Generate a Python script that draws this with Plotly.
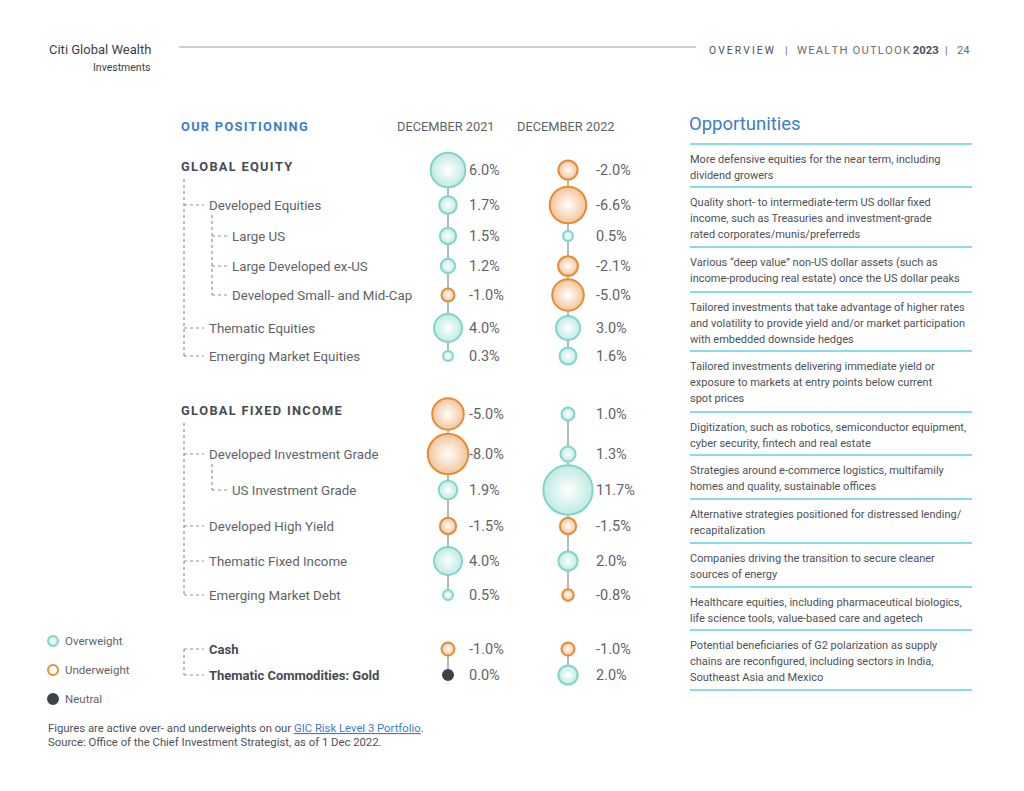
import plotly.graph_objects as go
import math

# ---------------- data ----------------
categories = ["GLOBAL EQUITY", "Developed Equities", "Large US", "Large Developed ex-US",
              "Developed Small- and Mid-Cap", "Thematic Equities", "Emerging Market Equities",
              "GLOBAL FIXED INCOME", "Developed Investment Grade", "US Investment Grade",
              "Developed High Yield", "Thematic Fixed Income", "Emerging Market Debt",
              "Cash", "Thematic Commodities: Gold"]
dec_2021 = [6.0, 1.7, 1.5, 1.2, -1.0, 4.0, 0.3, -5.0, -8.0, 1.9, -1.5, 4.0, 0.5, -1.0, 0.0]
dec_2022 = [-2.0, -6.6, 0.5, -2.1, -5.0, 3.0, 1.6, 1.0, 1.3, 11.7, -1.5, 2.0, -0.8, -1.0, 2.0]
levels = [0, 1, 2, 2, 2, 1, 1, 0, 1, 2, 1, 1, 1, 1, 1]
bold_rows = [0, 7, 13, 14]
groups = [0, 0, 0, 0, 0, 0, 0, 1, 1, 1, 1, 1, 1, 2, 2]
column_titles = ["DECEMBER 2021", "DECEMBER 2022"]
legend_labels = ["Overweight", "Underweight", "Neutral"]

opportunities = [
    ["More defensive equities for the near term, including", "dividend growers"],
    ["Quality short- to intermediate-term US dollar fixed", "income, such as Treasuries and investment-grade",
     "rated corporates/munis/preferreds"],
    ["Various \u201cdeep value\u201d non-US dollar assets (such as",
     "income-producing real estate) once the US dollar peaks"],
    ["Tailored investments that take advantage of higher rates",
     "and volatility to provide yield and/or market participation", "with embedded downside hedges"],
    ["Tailored investments delivering immediate yield or", "exposure to markets at entry points below current",
     "spot prices"],
    ["Digitization, such as robotics, semiconductor equipment,", "cyber security, fintech and real estate"],
    ["Strategies around e-commerce logistics, multifamily", "homes and quality, sustainable offices"],
    ["Alternative strategies positioned for distressed lending/", "recapitalization"],
    ["Companies driving the transition to secure cleaner", "sources of energy"],
    ["Healthcare equities, including pharmaceutical biologics,", "life science tools, value-based care and agetech"],
    ["Potential beneficiaries of G2 polarization as supply", "chains are reconfigured, including sectors in India,",
     "Southeast Asia and Mexico"],
]

# ---------------- layout constants (pixels) ----------------
W, H = 1024, 791
OFF = 8  # page body margin
row_y = [170, 205, 236, 266, 295, 328, 356, 414, 454, 490, 526, 561, 595, 649, 675]
col_x = [448, 568]
val_x = [469, 596]
label_x = [181, 209, 232]

TEAL, TEAL_EDGE = "#80d5cb", "#bfeae4"
ORANGE, ORANGE_EDGE = "#e68c36", "#f4c49a"
NEUTRAL = "#3c4249"
GREY_TXT = "#5f6368"
DARK_TXT = "#464b52"
BLUE = "#3d7cc9"
CYAN_RULE = "#5fd0dc"
FONT = "Roboto"
HS = "\u200a"
PAD = 2  # annotation inner padding


def spaced(s, sep=HS):
    return sep.join(s)


def bsize(v):
    if v == 0:
        return 10
    return max(10, 15 * math.sqrt(abs(v)) - 2)


def bcolor(v):
    if v > 0:
        return TEAL, TEAL_EDGE
    if v < 0:
        return ORANGE, ORANGE_EDGE
    return NEUTRAL, NEUTRAL


fig = go.Figure()

# vertical connector lines per group
for cx in col_x:
    for g in sorted(set(groups)):
        ys = [row_y[i] for i in range(len(groups)) if groups[i] == g]
        fig.add_trace(go.Scatter(x=[cx, cx], y=[min(ys), max(ys)], mode="lines",
                                 line=dict(color="#a3a7ab", width=1.6), hoverinfo="skip"))

# bubbles
for cx, vals in zip(col_x, [dec_2021, dec_2022]):
    lines = [bcolor(v)[0] for v in vals]
    fills = [bcolor(v)[1] for v in vals]
    grad = ["#ffffff" if v != 0 else NEUTRAL for v in vals]
    fig.add_trace(go.Scatter(
        x=[cx] * len(vals), y=row_y, mode="markers",
        marker=dict(size=[bsize(v) for v in vals], color=fills,
                    gradient=dict(type="radial", color=grad),
                    line=dict(color=lines, width=2), opacity=1),
        hovertext=[f"{c}: {v:.1f}%" for c, v in zip(categories, vals)], hoverinfo="text"))

# legend markers
leg_y = [641, 670, 699]
leg_cols = [(TEAL, TEAL_EDGE, "#ffffff"), (ORANGE, "#ffffff", "#ffffff"), (NEUTRAL, NEUTRAL, NEUTRAL)]
fig.add_trace(go.Scatter(
    x=[53] * 3, y=leg_y, mode="markers",
    marker=dict(size=10, color=[c[1] for c in leg_cols],
                gradient=dict(type="radial", color=[c[2] for c in leg_cols]),
                line=dict(color=[c[0] for c in leg_cols], width=2)),
    hoverinfo="skip"))

ann = []
shapes = []


def text(x, y, s, size=12, color=GREY_TXT, anchor="left", yanchor="middle", family=FONT):
    if anchor == "left":
        x -= PAD
    elif anchor == "right":
        x += PAD
    ann.append(dict(x=x, y=y, xref="x", yref="y", text=s, showarrow=False,
                    xanchor=anchor, yanchor=yanchor,
                    font=dict(family=family, size=size, color=color)))


def line(x0, y0, x1, y1, color, width=1, dash="solid"):
    shapes.append(dict(type="line", xref="x", yref="y", x0=x0, y0=y0, x1=x1, y1=y1,
                       line=dict(color=color, width=width, dash=dash), layer="below"))


# header
text(151, 49, "Citi Global Wealth", size=13, color="#3a3f45", anchor="right")
text(151, 67, "Investments", size=10.5, color="#3a3f45", anchor="right")
line(179, 47, 696, 47, "#9a9ea3", 1)
text(709, 50, spaced("OVERVIEW", "\u2009"), size=10.3, color="#4a4f55")
text(786, 50, "|", size=11, color="#6a6e73", anchor="center")
text(797, 50, spaced("WEALTH OUTLOOK") + " <b style='color:#4a4f55'>2023</b>", size=11.3, color="#6a6e73")
text(946, 50, "|", size=11, color="#6a6e73", anchor="center")
text(957, 50, "24", size=11.3, color="#6a6e73")

# column headers
text(181, 126, "<b>" + spaced("OUR POSITIONING") + "</b>", size=12.8, color=BLUE)
for cx, t in zip(col_x, column_titles):
    text(cx - 2, 126, t, size=12.8, color=GREY_TXT, anchor="center")

# row labels
for i, (c, lvl) in enumerate(zip(categories, levels)):
    y = row_y[i]
    if lvl == 0:
        text(label_x[0], y - 4, "<b>" + spaced(c) + "</b>", size=12.8, color=DARK_TXT)
    elif i in bold_rows:
        text(label_x[1], y, f"<b>{c}</b>", size=13, color=DARK_TXT)
    else:
        text(label_x[lvl], y, c, size=13.3, color=GREY_TXT)

# values
for vx, vals in zip(val_x, [dec_2021, dec_2022]):
    for i, v in enumerate(vals):
        text(vx, row_y[i], f"{v:.1f}%", size=14.5, color=GREY_TXT)

# tree connectors (dotted)
TREE = "#8d9297"
for g in sorted(set(groups)):
    idx = [i for i in range(len(groups)) if groups[i] == g]
    kids = [i for i in idx if levels[i] == 1]
    top = row_y[idx[0]] + 9 if levels[idx[0]] == 0 else row_y[kids[0]]
    line(184, top, 184, row_y[kids[-1]], TREE, 1.2, "dot")
    for k in kids:
        line(184, row_y[k], 204, row_y[k], TREE, 1.2, "dot")
i = 0
while i < len(levels):
    if levels[i] == 2:
        j = i
        while j + 1 < len(levels) and levels[j + 1] == 2:
            j += 1
        parent = row_y[i - 1]
        line(212, parent + 10, 212, row_y[j], TREE, 1.2, "dot")
        for k in range(i, j + 1):
            line(212, row_y[k], 228, row_y[k], TREE, 1.2, "dot")
        i = j + 1
    else:
        i += 1

# legend labels
for y, lab in zip(leg_y, legend_labels):
    text(65, y, lab, size=11.5, color=GREY_TXT)

# footnote
text(48, 728, "Figures are active over- and underweights on our "
     "<span style='color:#3d7cc9'><u>GIC Risk Level 3 Portfolio</u></span>.", size=11.3, color="#4d5157")
text(48, 742, "Source: Office of the Chief Investment Strategist, as of 1 Dec 2022.", size=11.3, color="#4d5157")

# opportunities panel
text(689, 124, "Opportunities", size=18.5, color=BLUE)
rules = [144, 187, 247, 292, 351, 412, 455, 499, 543, 587, 630, 690]
for ry in rules:
    line(690, ry, 972, ry, CYAN_RULE, 1.5)
for k, item in enumerate(opportunities):
    top = rules[k]
    for j, s in enumerate(item):
        text(690, top + 15 + 16.2 * j, s, size=11, color="#4d5157")

fig.update_layout(
    width=W - OFF, height=H - OFF, margin=dict(l=0, r=0, t=0, b=0),
    paper_bgcolor="white", plot_bgcolor="white", showlegend=False,
    xaxis=dict(range=[OFF, W], visible=False, fixedrange=True),
    yaxis=dict(range=[H, OFF], visible=False, fixedrange=True),
    annotations=ann, shapes=shapes, font=dict(family=FONT),
)
fig.write_html("out.html")
